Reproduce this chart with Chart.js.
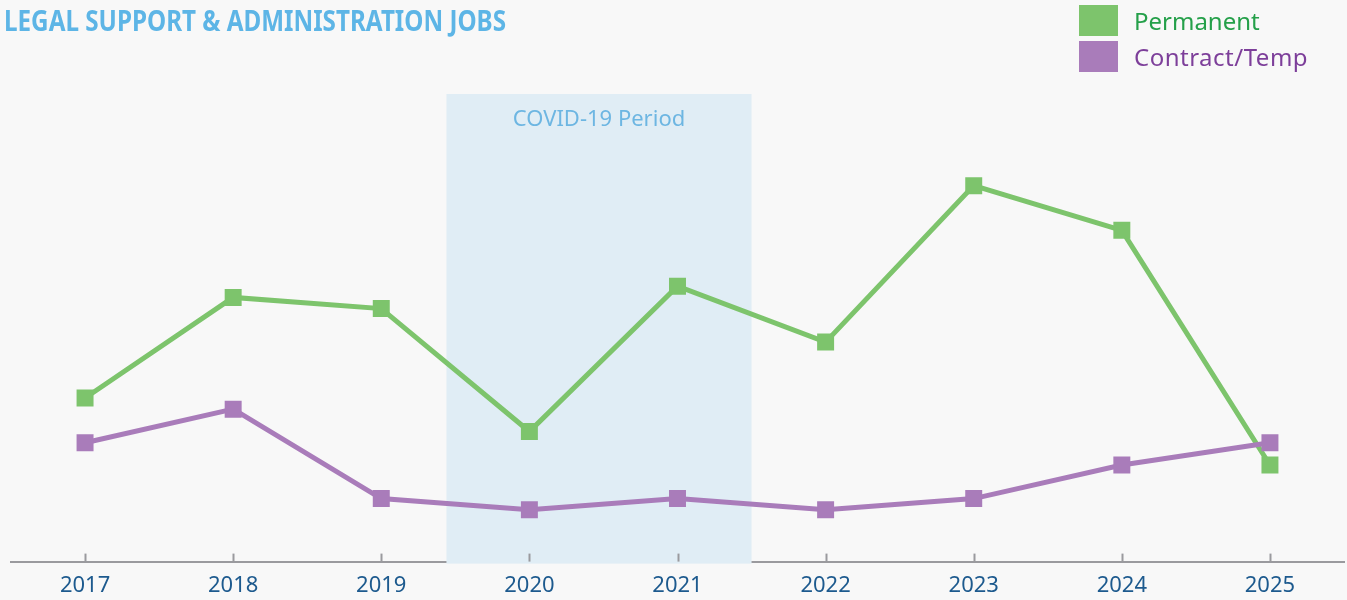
<!DOCTYPE html>
<html>
<head>
<meta charset="utf-8">
<script src="https://cdn.jsdelivr.net/npm/chart.js@4.4.1/dist/chart.umd.min.js"></script>
<style>
  html, body { margin: 0; padding: 0; background: #f8f8f8; }
  #wrap { position: relative; width: 1347px; height: 600px; overflow: hidden; }
  #title { position: absolute; left: 4px; top: 1px; font-family: "Noto Sans", sans-serif; font-weight: 700;
           font-size: 28px; color: #5db5e6; white-space: nowrap; transform: scaleX(0.865); transform-origin: 0 0; }
  #legend { position: absolute; left: 1079px; top: 5px; font-family: "Noto Sans", sans-serif; font-size: 24px; }
  .li { display: flex; align-items: center; height: 31px; margin-bottom: 5px; }
  .sw { width: 39px; height: 31px; margin-right: 16px; }
  canvas { position: absolute; left: 0; top: 0; }
</style>
</head>
<body>
<div id="wrap">
  <canvas id="c" width="1347" height="614"></canvas>
  <div id="title">LEGAL SUPPORT &amp; ADMINISTRATION JOBS</div>
  <div id="legend">
    <div class="li"><div class="sw" style="background:#7dc46c"></div><span style="color:#25a04a">Permanent</span></div>
    <div class="li"><div class="sw" style="background:#a97cba"></div><span style="color:#7d3f9a; letter-spacing:0.5px">Contract/Temp</span></div>
  </div>
</div>
<script>
const years = ["2017","2018","2019","2020","2021","2022","2023","2024","2025"];
const permanent = [15, 24, 23, 12, 25, 20, 34, 30, 9];
const contractTemp = [11, 14, 6, 5, 6, 5, 6, 9, 11];
const covidStart = 2.44;  // category index (between 2019 and 2020)
const covidEnd = 4.5;     // category index (between 2021 and 2022)
const covidLabel = "COVID-19 Period";

const covidPlugin = {
  id: 'covid',
  beforeDatasetsDraw(chart) {
    const {ctx, chartArea, scales} = chart;
    const x = scales.x;
    const x0 = x.getPixelForValue(covidStart);
    const x1 = x.getPixelForValue(covidEnd);
    ctx.save();
    ctx.fillStyle = '#e0edf5';
    ctx.fillRect(x0, chartArea.top, x1 - x0, chartArea.bottom - chartArea.top + 2);
    ctx.fillStyle = '#6db6e2';
    ctx.font = '22px "Noto Sans"';
    ctx.textAlign = 'center';
    ctx.textBaseline = 'middle';
    ctx.fillText(covidLabel, (x0 + x1) / 2, chartArea.top + 26);
    // upward tick marks
    ctx.strokeStyle = '#9a9a9e';
    ctx.lineWidth = 2;
    for (let i = 0; i < years.length; i++) {
      const px = Math.round(x.getPixelForValue(i)) + 0.5;
      ctx.beginPath();
      ctx.moveTo(px, chartArea.bottom - 8);
      ctx.lineTo(px, chartArea.bottom);
      ctx.stroke();
    }
    ctx.restore();
  }
};

new Chart(document.getElementById('c'), {
  type: 'line',
  data: {
    labels: years,
    datasets: [
      {
        label: 'Permanent', data: permanent, order: 2,
        borderColor: '#7dc46c', backgroundColor: '#7dc46c', borderWidth: 5,
        pointStyle: 'rect', pointRadius: 12, pointHoverRadius: 12,
        pointBorderWidth: 0, pointBackgroundColor: '#7dc46c', tension: 0
      },
      {
        label: 'Contract/Temp', data: contractTemp, order: 1,
        borderColor: '#a97cba', backgroundColor: '#a97cba', borderWidth: 5,
        pointStyle: 'rect', pointRadius: 12, pointHoverRadius: 12,
        pointBorderWidth: 0, pointBackgroundColor: '#a97cba', tension: 0
      }
    ]
  },
  options: {
    responsive: false,
    animation: false,
    layout: { autoPadding: false, padding: { left: 11, right: 3, top: 94, bottom: 4 } },
    plugins: { legend: { display: false }, title: { display: false }, tooltip: { enabled: false } },
    scales: {
      x: {
        offset: true,
        grid: { display: false, drawTicks: false },
        border: { display: true, color: '#9a9a9e', width: 2 },
        ticks: { color: '#1d5a8e', font: { family: 'Noto Sans', size: 22 }, padding: 11 }
      },
      y: {
        display: false,
        min: 0.36, max: 42.2
      }
    }
  },
  plugins: [covidPlugin]
});
</script>
</body>
</html>
